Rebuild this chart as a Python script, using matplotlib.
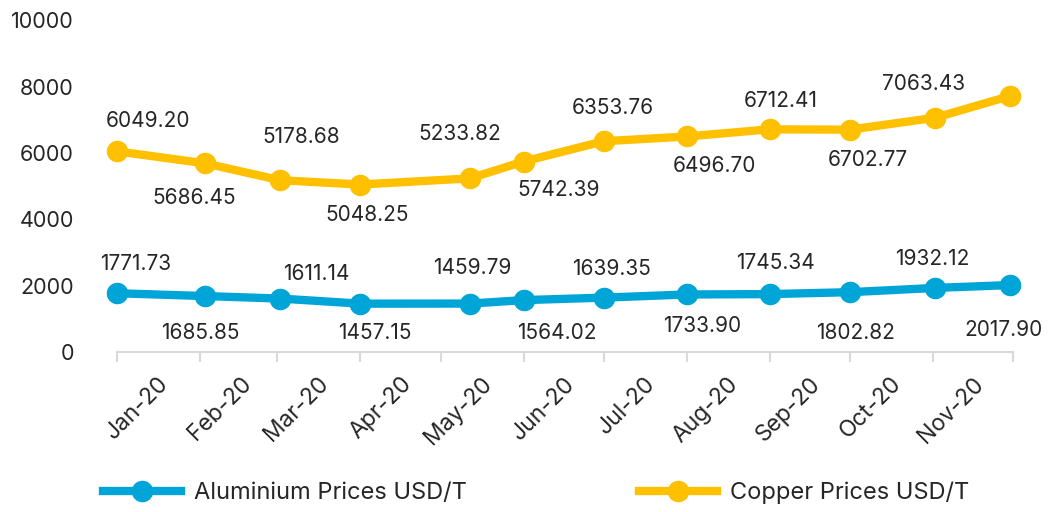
import numpy as np
import pandas as pd
import matplotlib
matplotlib.use('Agg')
import matplotlib.pyplot as plt
import matplotlib.dates as mdates

plt.rcParams['font.family'] = ['Inter', 'DejaVu Sans']
plt.rcParams['font.size'] = 15

# data (dates)
dates = ['2020-01-01', '2020-02-03', '2020-03-02', '2020-04-01', '2020-05-12', '2020-06-01',
         '2020-07-01', '2020-08-01', '2020-09-01', '2020-10-01', '2020-11-02', '2020-11-30']
aluminium = [1771.73, 1685.85, 1611.14, 1457.15, 1459.79, 1564.02,
             1639.35, 1733.90, 1745.34, 1802.82, 1932.12, 2017.90]
copper = [6049.20, 5686.45, 5178.68, 5048.25, 5233.82, 5742.39,
          6353.76, 6496.70, 6712.41, 6702.77, 7063.43, 7720.00]
copper_labelled = 11  # last copper point has no label in the original
month_labels = ['Jan-20', 'Feb-20', 'Mar-20', 'Apr-20', 'May-20', 'Jun-20',
                'Jul-20', 'Aug-20', 'Sep-20', 'Oct-20', 'Nov-20']

# label offsets in pixels (dx, dy)
alu_off = [(19, 29), (-5, -37), (36, 25), (14, -29), (2, 36), (33, -33),
           (8, 29), (15, -32), (6, 31), (6, -41), (-3, 29), (-7, -45)]
cu_off = [(31, 30), (-11, -35), (21, 43), (7, -30), (-10, 44), (35, -28),
          (9, 33), (28, -30), (11, 28), (18, -30), (-12, 34)]

blue = '#00A5D8'
gold = '#FFC000'

x = mdates.date2num(pd.to_datetime(dates))
month_starts = mdates.date2num(pd.date_range('2020-01-01', '2020-12-01', freq='MS'))
label_pos = month_starts[:-1] + 15

fig = plt.figure(figsize=(10.53, 5.12), dpi=100)
ax = fig.add_axes([0.1111, 0.3125, 0.8509, 0.6479])

ax.plot(x, aluminium, color=blue, lw=6, marker='o', ms=14.5, label='Aluminium Prices USD/T',
        clip_on=False, zorder=3)
ax.plot(x, copper, color=gold, lw=6, marker='o', ms=14.5, label='Copper Prices USD/T',
        clip_on=False, zorder=3)

for xi, v, (dx, dy) in zip(x, aluminium, alu_off):
    ax.annotate(f'{v:.2f}', (xi, v), xytext=(dx, dy), textcoords='offset pixels',
                ha='center', va='center', color='#262626', fontsize=15, annotation_clip=False)
for xi, v, (dx, dy) in zip(x[:copper_labelled], copper[:copper_labelled], cu_off):
    ax.annotate(f'{v:.2f}', (xi, v), xytext=(dx, dy), textcoords='offset pixels',
                ha='center', va='center', color='#262626', fontsize=15, annotation_clip=False)

ax.set_xlim(month_starts[0], month_starts[-1])
ax.set_ylim(0, 10000)
ax.set_yticks(range(0, 10001, 2000))
ax.tick_params(axis='y', length=0, pad=31, labelsize=15.5, labelcolor='#262626')

ax.set_xticks(month_starts)
ax.set_xticklabels([])
ax.set_xticks(label_pos, month_labels, minor=True)
ax.tick_params(axis='x', which='major', length=7, width=1.5, color='#D9D9D9', direction='out')
ax.tick_params(axis='x', which='minor', length=0, pad=15, labelsize=16.5, labelcolor='#262626')
plt.setp(ax.get_xminorticklabels(), rotation=45, ha='right', va='top', rotation_mode='anchor')

for s in ['top', 'right', 'left']:
    ax.spines[s].set_visible(False)
ax.spines['bottom'].set_color('#D9D9D9')
ax.spines['bottom'].set_linewidth(1.5)

fig.legend(loc='center left', bbox_to_anchor=(0.098, 0.037), ncol=2, frameon=False,
           handlelength=3.3, handletextpad=0.55, columnspacing=7.3, borderpad=0,
           borderaxespad=0, fontsize=17, labelcolor='#262626')

fig.savefig('out.png', dpi=100)
